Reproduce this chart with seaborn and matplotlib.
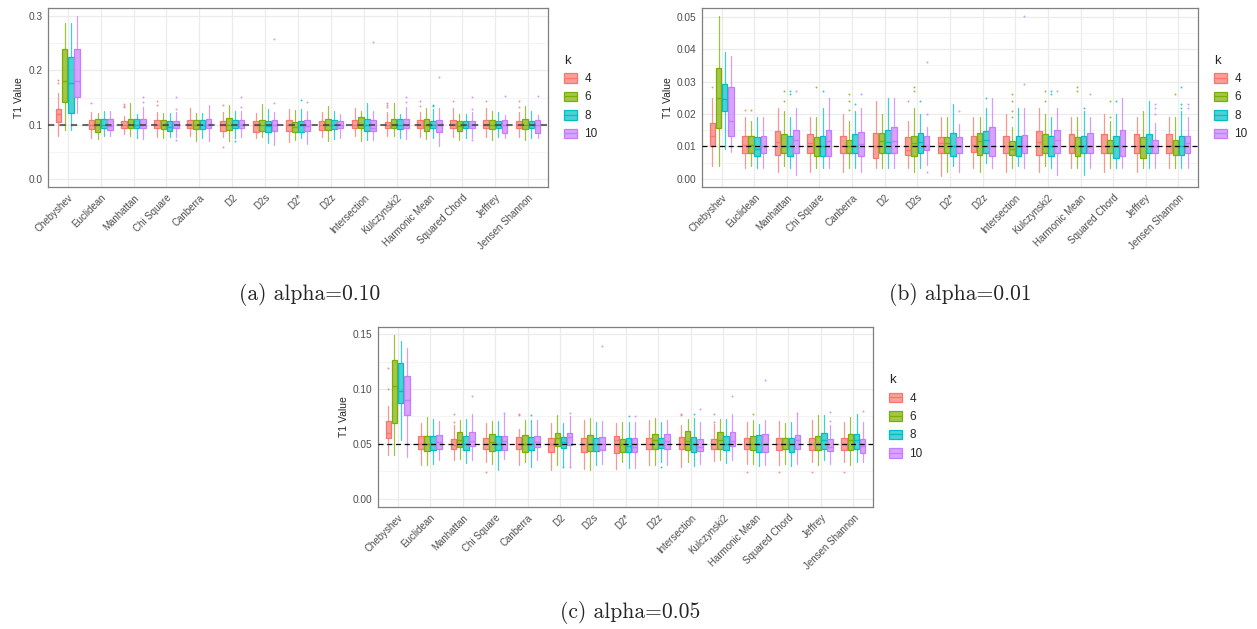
import numpy as np
import matplotlib
matplotlib.use('Agg')
import matplotlib.pyplot as plt
import seaborn as sns
from matplotlib.patches import Patch
from matplotlib.lines import Line2D
from matplotlib.ticker import MultipleLocator

# categories
distances = ['Chebyshev', 'Euclidean', 'Manhattan', 'Chi Square', 'Canberra', 'D2', 'D2s',
             'D2*', 'D2z', 'Intersection', 'Kulczynski2', 'Harmonic Mean', 'Squared Chord',
             'Jeffrey', 'Jensen Shannon']
k_values = ['4', '6', '8', '10']
alphas = [0.10, 0.01, 0.05]
captions = ['(a) alpha=0.10', '(b) alpha=0.01', '(c) alpha=0.05']

# ---- panel (a) alpha=0.10 : one row per distance, columns k=4,6,8,10
q1_a = [[.104, .142, .122, .151], [.092, .087, .094, .090], [.093, .093, .093, .093],
        [.093, .092, .088, .093], [.093, .092, .092, .093], [.088, .090, .093, .094],
        [.086, .088, .087, .089], [.088, .087, .087, .088], [.090, .090, .092, .093],
        [.094, .093, .089, .089], [.093, .093, .092, .093], [.093, .089, .093, .087],
        [.093, .089, .093, .093], [.093, .092, .093, .085], [.093, .092, .093, .085]]
med_a = [[.120, .180, .176, .180], [.100, .100, .100, .098], [.100, .100, .100, .100],
         [.100, .100, .096, .100], [.100, .100, .100, .100], [.099, .100, .100, .100],
         [.100, .100, .098, .100], [.100, .096, .100, .097], [.100, .100, .100, .100],
         [.100, .100, .100, .094], [.100, .100, .100, .100], [.100, .099, .100, .100],
         [.100, .098, .100, .100], [.100, .100, .100, .100], [.100, .100, .100, .100]]
q3_a = [[.129, .240, .224, .240], [.108, .111, .110, .111], [.106, .111, .110, .110],
        [.108, .109, .107, .106], [.108, .108, .109, .111], [.106, .113, .109, .108],
        [.106, .108, .106, .109], [.108, .104, .107, .108], [.106, .111, .109, .106],
        [.108, .114, .111, .109], [.105, .111, .110, .111], [.108, .110, .106, .109],
        [.108, .106, .106, .106], [.108, .109, .106, .108], [.107, .110, .106, .108]]
lo_a = [[.079, .090, .090, .122], [.076, .073, .079, .079], [.082, .079, .076, .073],
        [.078, .075, .078, .078], [.079, .070, .075, .070], [.078, .070, .075, .078],
        [.076, .078, .067, .063], [.068, .072, .075, .065], [.078, .069, .073, .076],
        [.079, .070, .071, .071], [.079, .079, .076, .073], [.078, .073, .075, .061],
        [.078, .071, .076, .076], [.078, .071, .078, .075], [.078, .071, .076, .075]]
hi_a = [[.159, .287, .287, .300], [.124, .122, .126, .126], [.116, .139, .120, .132],
        [.124, .122, .122, .124], [.130, .122, .121, .136], [.124, .136, .126, .126],
        [.122, .138, .129, .124], [.128, .127, .128, .125], [.124, .134, .126, .120],
        [.130, .125, .139, .126], [.124, .139, .120, .132], [.124, .131, .128, .131],
        [.130, .120, .119, .124], [.130, .126, .124, .117], [.124, .134, .125, .117]]
# outliers: (distance index, k index, value)
out_a = [(0, 0, .182), (0, 0, .176), (1, 0, .140),
         (2, 0, .138), (2, 0, .135), (2, 0, .132), (2, 3, .151), (2, 3, .142),
         (3, 0, .143), (3, 0, .136), (3, 3, .151), (3, 3, .129), (3, 3, .071),
         (5, 0, .136), (5, 0, .059), (5, 2, .070), (5, 3, .151), (5, 3, .132),
         (6, 3, .258), (6, 3, .140), (7, 2, .145), (7, 3, .142), (9, 3, .252),
         (10, 0, .139), (10, 0, .136), (10, 0, .133), (10, 3, .151), (10, 3, .142),
         (11, 0, .143), (11, 0, .134), (11, 2, .137), (11, 2, .134), (11, 3, .188),
         (12, 0, .143), (12, 3, .151), (12, 3, .129), (12, 3, .071),
         (13, 0, .143), (13, 3, .152), (14, 0, .143), (14, 0, .132), (14, 3, .152)]

# ---- panel (b) alpha=0.01
q1_b = [[.0100, .0157, .0208, .0131], [.0080, .0080, .0072, .0080], [.0073, .0080, .0072, .0080],
        [.0080, .0072, .0072, .0072], [.0080, .0080, .0080, .0070], [.0063, .0080, .0080, .0080],
        [.0073, .0070, .0080, .0090], [.0080, .0080, .0072, .0080], [.0082, .0073, .0080, .0070],
        [.0080, .0073, .0070, .0080], [.0073, .0080, .0070, .0080], [.0080, .0070, .0080, .0080],
        [.0080, .0080, .0063, .0070], [.0080, .0063, .0080, .0080], [.0080, .0073, .0073, .0080]]
med_b = [[.0131, .0251, .0246, .0180], [.0106, .0106, .0093, .0100], [.0113, .0100, .0100, .0121],
         [.0111, .0100, .0100, .0116], [.0100, .0100, .0100, .0107], [.0100, .0118, .0113, .0118],
         [.0090, .0111, .0113, .0100], [.0110, .0110, .0100, .0100], [.0106, .0118, .0121, .0100],
         [.0100, .0093, .0100, .0100], [.0113, .0100, .0100, .0121], [.0100, .0100, .0100, .0100],
         [.0100, .0100, .0100, .0100], [.0100, .0100, .0100, .0100], [.0100, .0100, .0100, .0111]]
q3_b = [[.0172, .0341, .0292, .0282], [.0131, .0131, .0128, .0131], [.0149, .0138, .0131, .0151],
        [.0138, .0129, .0131, .0151], [.0131, .0121, .0138, .0146], [.0141, .0141, .0151, .0161],
        [.0128, .0131, .0141, .0131], [.0130, .0130, .0140, .0130], [.0131, .0141, .0149, .0159],
        [.0131, .0118, .0131, .0134], [.0149, .0138, .0131, .0151], [.0138, .0129, .0131, .0141],
        [.0138, .0121, .0131, .0151], [.0138, .0129, .0138, .0121], [.0138, .0121, .0131, .0131]]
lo_b = [[.0041, .0041, .0092, .0083], [.0032, .0041, .0032, .0032], [.0022, .0041, .0032, .0011],
        [.0022, .0032, .0032, .0032], [.0022, .0032, .0032, .0022], [.0032, .0032, .0032, .0032],
        [.0032, .0022, .0032, .0044], [.0010, .0020, .0040, .0020], [.0032, .0022, .0049, .0032],
        [.0022, .0032, .0041, .0032], [.0022, .0041, .0032, .0011], [.0032, .0032, .0011, .0032],
        [.0022, .0032, .0032, .0032], [.0022, .0032, .0032, .0032], [.0032, .0032, .0032, .0032]]
hi_b = [[.0249, .0502, .0390, .0380], [.0190, .0180, .0190, .0190], [.0220, .0210, .0190, .0220],
        [.0190, .0190, .0220, .0249], [.0200, .0180, .0210, .0220], [.0241, .0200, .0249, .0249],
        [.0180, .0220, .0200, .0160], [.0190, .0190, .0230, .0170], [.0190, .0190, .0220, .0249],
        [.0200, .0159, .0220, .0220], [.0220, .0200, .0190, .0220], [.0190, .0190, .0210, .0190],
        [.0200, .0180, .0200, .0249], [.0190, .0210, .0241, .0171], [.0190, .0190, .0210, .0190]]
out_b = [(0, 0, .0282), (1, 0, .0211), (1, 1, .0211),
         (2, 1, .0272), (2, 1, .0241), (2, 2, .0272), (2, 2, .0261), (2, 3, .0272),
         (3, 1, .0282), (3, 2, .0272),
         (4, 1, .0261), (4, 1, .0241), (4, 1, .0211), (4, 2, .0232), (4, 3, .0261),
         (6, 0, .0241), (6, 1, .0282), (6, 1, .0272), (6, 2, .0241),
         (6, 3, .0360), (6, 3, .0200), (6, 3, .0020), (7, 3, .0210), (8, 2, .0251),
         (9, 1, .0261), (9, 1, .0241), (9, 1, .0210), (9, 1, .0190), (9, 3, .0502), (9, 3, .0292),
         (10, 1, .0272), (10, 1, .0241), (10, 2, .0272), (10, 2, .0261), (10, 3, .0272),
         (11, 1, .0282), (11, 1, .0272), (11, 2, .0220), (11, 3, .0261),
         (12, 1, .0241), (12, 1, .0190), (12, 2, .0241),
         (13, 3, .0232), (13, 3, .0220), (13, 3, .0200),
         (14, 1, .0261), (14, 2, .0282), (14, 2, .0232), (14, 2, .0220), (14, 3, .0232), (14, 3, .0220)]

# ---- panel (c) alpha=0.05
q1_c = [[.0550, .0694, .0868, .0761], [.0456, .0434, .0440, .0456], [.0456, .0471, .0440, .0477],
        [.0456, .0434, .0440, .0440], [.0456, .0428, .0440, .0471], [.0428, .0480, .0465, .0489],
        [.0425, .0434, .0434, .0443], [.0419, .0425, .0428, .0428], [.0450, .0450, .0459, .0450],
        [.0450, .0440, .0428, .0434], [.0456, .0456, .0440, .0477], [.0450, .0440, .0425, .0425],
        [.0440, .0450, .0428, .0450], [.0440, .0440, .0456, .0434], [.0440, .0443, .0456, .0419]]
med_c = [[.0602, .1030, .0984, .0899], [.0500, .0500, .0500, .0520], [.0490, .0535, .0500, .0526],
         [.0500, .0520, .0500, .0526], [.0500, .0500, .0500, .0520], [.0500, .0550, .0520, .0563],
         [.0500, .0500, .0500, .0500], [.0540, .0500, .0480, .0471], [.0500, .0540, .0490, .0526],
         [.0500, .0526, .0500, .0471], [.0500, .0535, .0500, .0526], [.0500, .0500, .0500, .0500],
         [.0500, .0500, .0500, .0532], [.0500, .0500, .0540, .0474], [.0500, .0532, .0540, .0480]]
q3_c = [[.0712, .1260, .1235, .1116], [.0572, .0572, .0572, .0580], [.0547, .0611, .0572, .0611],
        [.0556, .0593, .0572, .0572], [.0562, .0580, .0562, .0572], [.0556, .0602, .0565, .0602],
        [.0556, .0580, .0550, .0562], [.0572, .0541, .0556, .0556], [.0556, .0593, .0556, .0593],
        [.0562, .0617, .0562, .0541], [.0547, .0611, .0572, .0611], [.0556, .0572, .0580, .0593],
        [.0556, .0550, .0556, .0580], [.0556, .0572, .0602, .0541], [.0556, .0593, .0593, .0541]]
lo_c = [[.0395, .0395, .0535, .0382], [.0306, .0306, .0321, .0358], [.0349, .0367, .0327, .0355],
        [.0336, .0318, .0266, .0367], [.0306, .0336, .0288, .0349], [.0260, .0306, .0300, .0300],
        [.0275, .0260, .0306, .0318], [.0272, .0333, .0281, .0285], [.0312, .0312, .0336, .0312],
        [.0290, .0333, .0300, .0318], [.0343, .0358, .0327, .0358], [.0318, .0318, .0300, .0306],
        [.0306, .0318, .0297, .0318], [.0333, .0312, .0358, .0321], [.0333, .0312, .0333, .0333]]
hi_c = [[.0847, .1490, .1437, .1373], [.0694, .0746, .0725, .0710], [.0673, .0718, .0725, .0776],
        [.0694, .0710, .0710, .0776], [.0632, .0718, .0720, .0718], [.0694, .0761, .0688, .0755],
        [.0718, .0740, .0700, .0710], [.0688, .0700, .0700, .0700], [.0715, .0740, .0700, .0718],
        [.0669, .0730, .0740, .0700], [.0679, .0725, .0730, .0776], [.0700, .0718, .0679, .0718],
        [.0710, .0688, .0700, .0770], [.0718, .0761, .0764, .0669], [.0700, .0749, .0776, .0700]]
out_c = [(0, 0, .1195), (0, 0, .1000), (2, 0, .0770), (2, 0, .0700), (2, 3, .0932),
         (3, 0, .0242), (3, 3, .0780), (4, 0, .0770), (4, 0, .0760), (4, 2, .0764),
         (5, 2, .0290), (5, 3, .0785), (5, 3, .0290), (6, 3, .1394),
         (7, 2, .0755), (7, 3, .0755), (8, 2, .0290),
         (9, 0, .0770), (9, 0, .0760), (9, 2, .0770), (9, 3, .0822),
         (10, 0, .0770), (10, 0, .0700), (10, 3, .0932),
         (11, 0, .0242), (11, 1, .0770), (11, 3, .1080), (12, 0, .0242), (12, 3, .0785),
         (13, 0, .0242), (13, 3, .0791), (13, 3, .0710), (14, 0, .0242), (14, 3, .0800)]

panels = [
    (q1_a, med_a, q3_a, lo_a, hi_a, out_a),
    (q1_b, med_b, q3_b, lo_b, hi_b, out_b),
    (q1_c, med_c, q3_c, lo_c, hi_c, out_c),
]

# style
sns.set_style("whitegrid")
plt.rcParams['font.family'] = ['Liberation Sans', 'DejaVu Sans']
colors = ['#F8766D', '#7CAE00', '#00BFC4', '#C77CFF']  # ggplot default hue palette

fig = plt.figure(figsize=(12.57, 6.29), dpi=100)
W, H = 1257, 629
# axes boxes in pixels: left, top, right, bottom
ax_px = [(48, 8, 548, 187), (702, 8, 1198, 187), (378, 327, 873, 507)]
caption_pos = [(310, 295), (960, 295), (630, 612)]
ref_style = [dict(color='#444444', lw=1.5, alpha=0.8, dashes=(3, 2.5)),
             dict(color='black', lw=0.9, dashes=(4, 3)),
             dict(color='black', lw=0.9, dashes=(4, 3))]
tick_step = [0.1, 0.01, 0.05]
tick_fmt = ['{:.1f}', '{:.2f}', '{:.2f}']

n = len(distances)
dodge = 0.75 / len(k_values)

for p, (q1, med, q3, lo, hi, outs) in enumerate(panels):
    l, t, r, b = ax_px[p]
    ax = fig.add_axes([l / W, 1 - b / H, (r - l) / W, (b - t) / H])
    ax.set_facecolor('white')

    ymax = max(max(max(row) for row in hi), max(o[2] for o in outs))
    for j, col in enumerate(colors):
        stats = []
        for i in range(n):
            stats.append(dict(q1=q1[i][j], med=med[i][j], q3=q3[i][j],
                              whislo=lo[i][j], whishi=hi[i][j],
                              fliers=[o[2] for o in outs if o[0] == i and o[1] == j]))
        pos = np.arange(n) + (j - 1.5) * dodge
        ax.bxp(stats, positions=pos, widths=dodge * 0.92, patch_artist=True,
               showcaps=False, manage_ticks=False,
               boxprops=dict(facecolor=matplotlib.colors.to_rgba(col, 0.7), edgecolor=col, linewidth=0.9),
               medianprops=dict(color=col, linewidth=1.0),
               whiskerprops=dict(color=col, linewidth=0.9, alpha=0.75),
               flierprops=dict(marker='o', markersize=1.4, markerfacecolor=col,
                               markeredgecolor='none', alpha=0.8),
               zorder=3)

    ax.axhline(alphas[p], zorder=4, **ref_style[p])

    ax.set_xlim(-0.6, n - 0.4)
    ax.set_xticks(np.arange(n))
    ax.set_xticklabels(distances, rotation=45, ha='right', va='top', rotation_mode='anchor',
                       fontsize=7, color='#4D4D4D')
    ax.yaxis.set_major_locator(MultipleLocator(tick_step[p]))
    ax.yaxis.set_minor_locator(MultipleLocator(tick_step[p] / 2))
    ax.set_ylim(-0.05 * ymax, 1.05 * ymax)
    ticks = [v for v in ax.get_yticks() if -0.05 * ymax <= v <= 1.05 * ymax]
    ax.set_yticks(ticks)
    ax.set_yticklabels([tick_fmt[p].format(v) for v in ticks], fontsize=7.3, color='#4D4D4D')
    ax.set_ylim(-0.05 * ymax, 1.05 * ymax)
    ax.set_ylabel('T1 Value', fontsize=7.5, labelpad=3)

    ax.grid(True, which='major', color='#EBEBEB', linewidth=0.9, zorder=0)
    ax.grid(True, which='minor', axis='y', color='#F2F2F2', linewidth=0.6, zorder=0)
    ax.set_axisbelow(True)
    ax.tick_params(axis='both', which='major', length=2.5, width=0.7, color='#333333', pad=1.5)
    ax.tick_params(axis='y', which='minor', length=0)
    for s in ax.spines.values():
        s.set_color('#7F7F7F')
        s.set_linewidth(0.9)

    # legend keys: filled box with a median line, like ggplot's boxplot key
    handles = [(Patch(facecolor=matplotlib.colors.to_rgba(c, 0.7), edgecolor=c, linewidth=0.9),
                Line2D([], [], color=c, linewidth=0.9)) for c in colors]
    leg = ax.legend(handles, k_values, title='k', loc='center left', bbox_to_anchor=(1.015, 0.5),
                    frameon=False, fontsize=8.5, title_fontsize=9.5, handlelength=1.15,
                    handleheight=0.85, labelspacing=0.55, handletextpad=0.6, borderaxespad=0.3)
    leg._legend_box.align = 'left'

    cx, cy = caption_pos[p]
    fig.text(cx / W, 1 - cy / H, captions[p], ha='center', va='center',
             fontsize=15.5, family='cmr10')

fig.savefig('out.png', dpi=100)
